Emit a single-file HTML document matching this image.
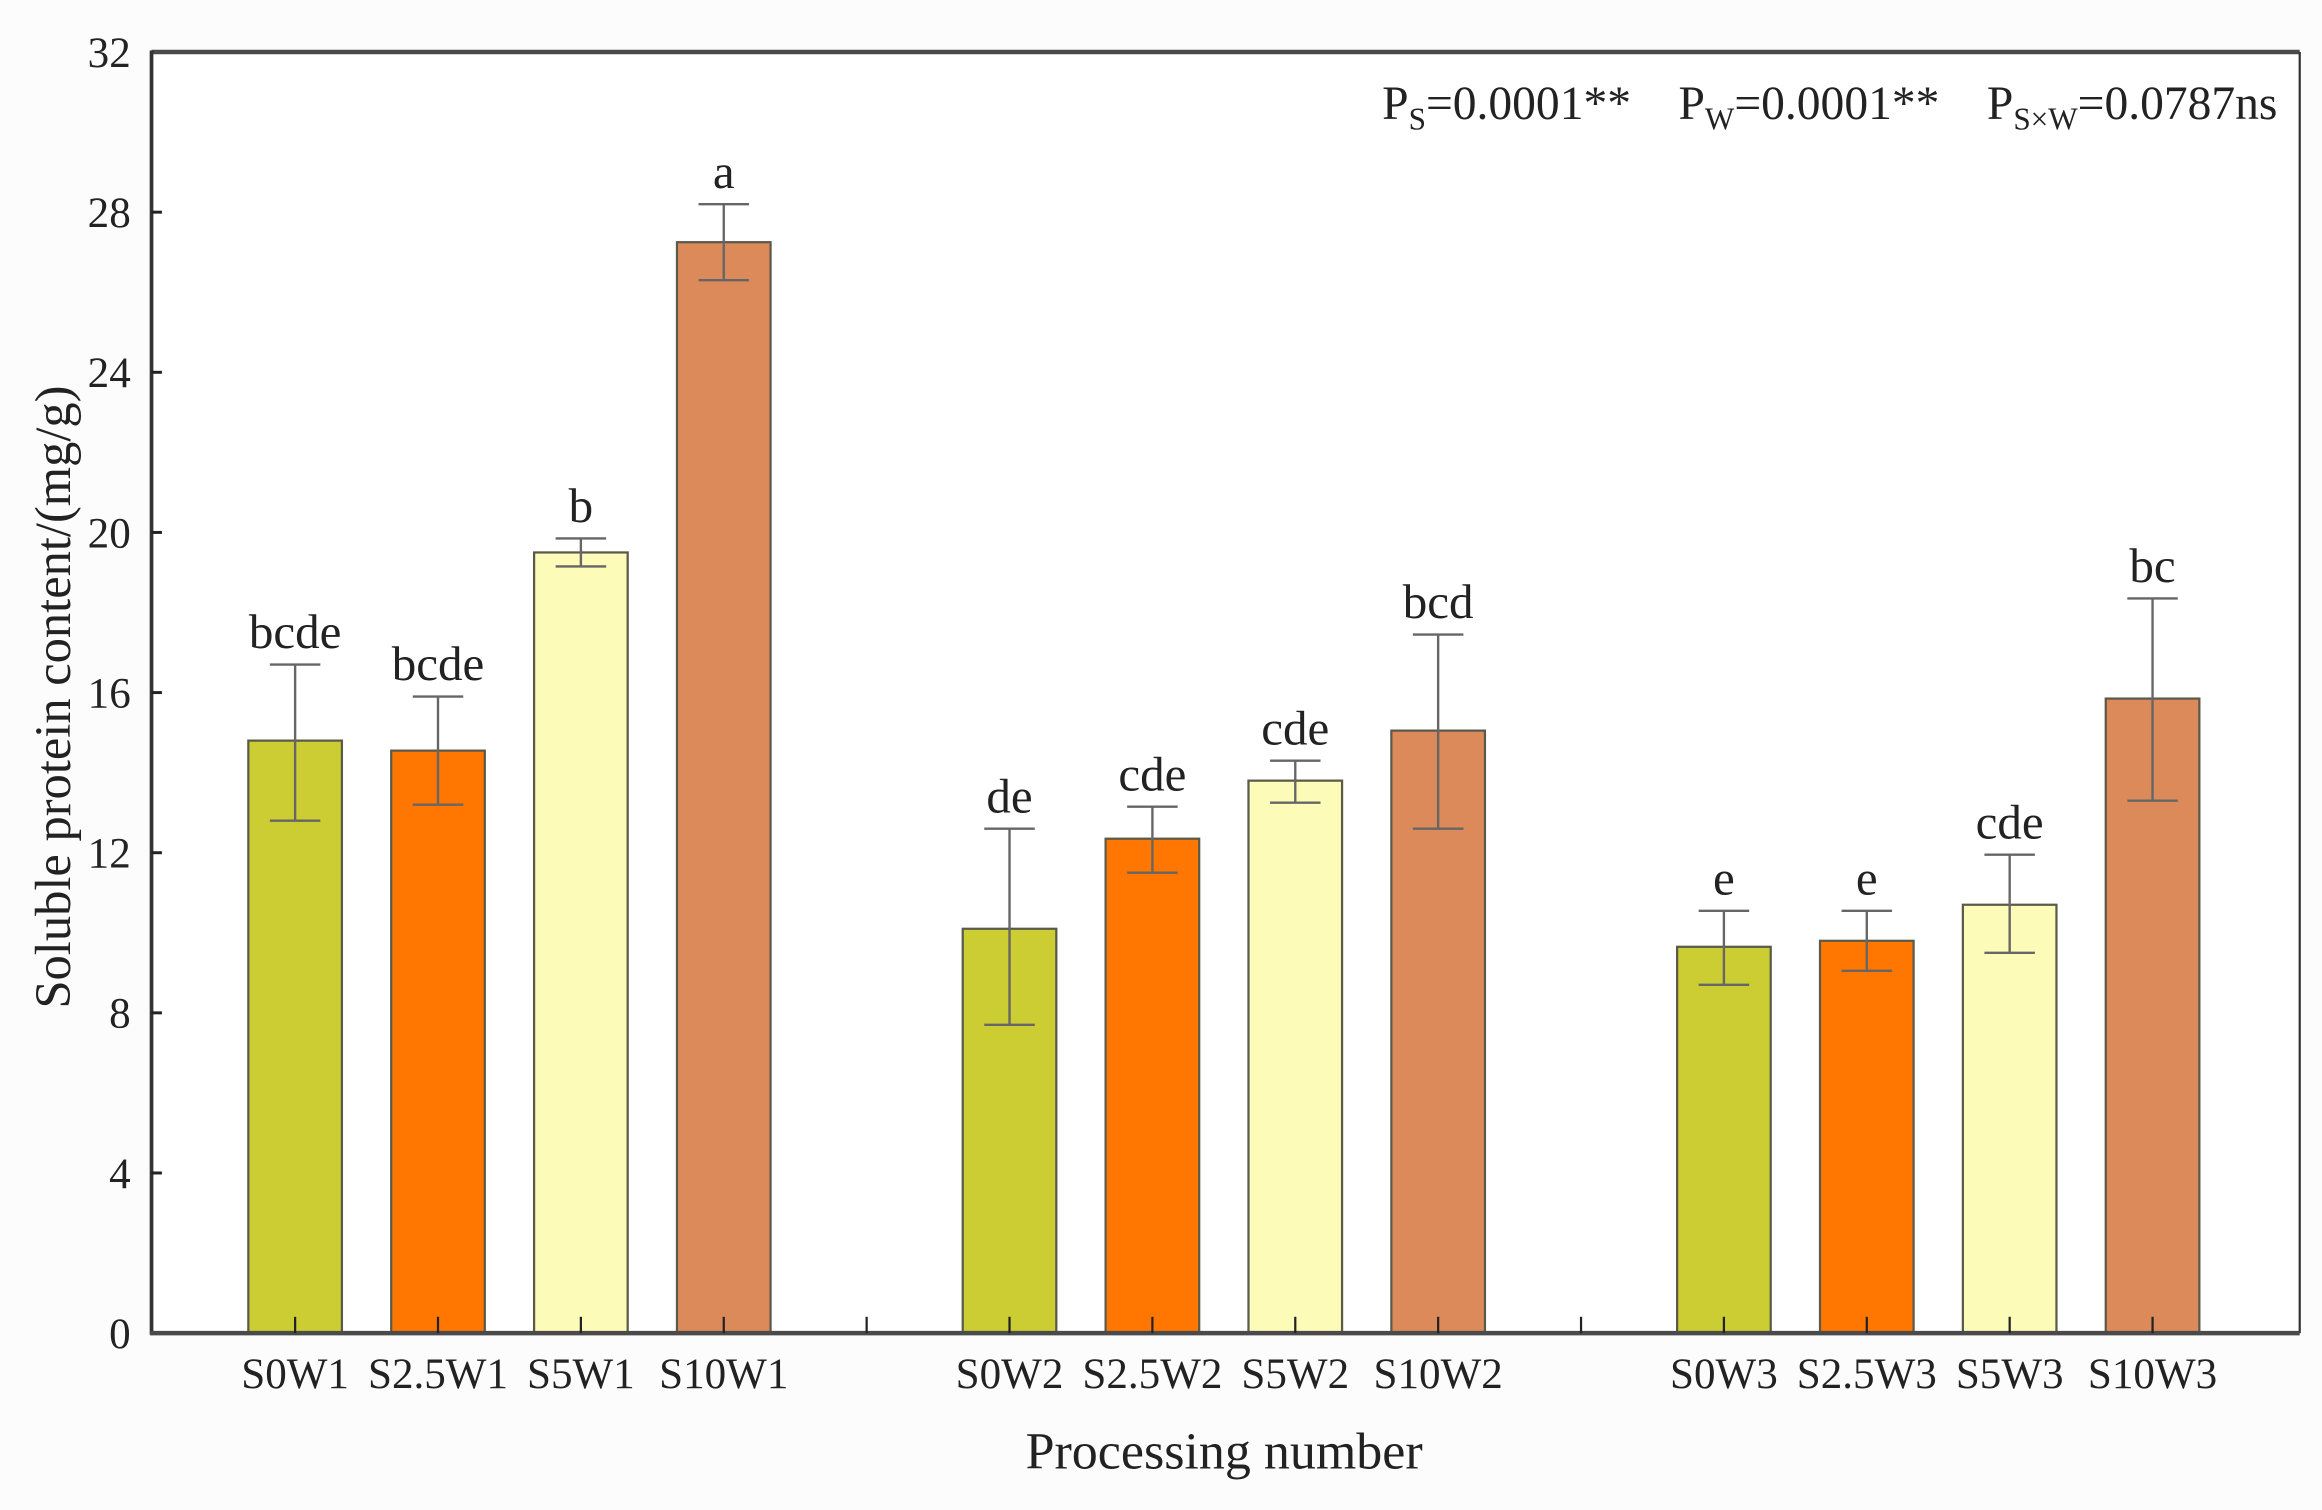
<!DOCTYPE html>
<html><head><meta charset="utf-8"><style>
html,body{margin:0;padding:0;background:#fcfcfc;}
svg{display:block;}
text{font-family:"Liberation Serif",serif;fill:#222;}
.pre{white-space:pre;}
</style></head><body>
<svg id="chart" width="2322" height="1510" viewBox="0 0 1563 1016" preserveAspectRatio="none" xmlns="http://www.w3.org/2000/svg">
<rect x="0" y="0" width="1563" height="1016" fill="#fcfcfc"/>
<rect x="102" y="35" width="1446" height="862" fill="#ffffff"/>
<g id="marks"></g>
<line x1="102" y1="35" x2="1548" y2="35" stroke="#4a4a4a" stroke-width="3"/>
<line x1="1548" y1="35" x2="1548" y2="897" stroke="#333" stroke-width="1.5"/>
<line x1="102" y1="34" x2="102" y2="898" stroke="#333" stroke-width="2.5"/>
<line x1="101" y1="897" x2="1548" y2="897" stroke="#4a4a4a" stroke-width="3"/>
<g id="axes"></g>
<text class="pre" x="1533" y="80" text-anchor="end" font-size="32">P<tspan font-size="21" dy="7">S</tspan><tspan dy="-7">=0.0001**    P</tspan><tspan font-size="21" dy="7">W</tspan><tspan dy="-7">=0.0001**    P</tspan><tspan font-size="21" dy="7">S×W</tspan><tspan dy="-7">=0.0787ns</tspan></text>
<text x="824" y="988" text-anchor="middle" font-size="35">Processing number</text>
<text transform="translate(47,469) rotate(-90)" text-anchor="middle" font-size="34">Soluble protein content/(mg/g)</text>
</svg>
<script>
const categories = ["S0W1","S2.5W1","S5W1","S10W1","S0W2","S2.5W2","S5W2","S10W2","S0W3","S2.5W3","S5W3","S10W3"];
const slots = [0,1,2,3,5,6,7,8,10,11,12,13];
const gapSlots = [4,9];
const values = [14.8,14.55,19.5,27.25,10.1,12.35,13.8,15.05,9.65,9.8,10.7,15.85];
const errLow = [12.8,13.2,19.15,26.3,7.7,11.5,13.25,12.6,8.7,9.05,9.5,13.3];
const errHigh = [16.7,15.9,19.85,28.2,12.6,13.15,14.3,17.45,10.55,10.55,11.95,18.35];
const letters = ["bcde","bcde","b","a","de","cde","cde","bcd","e","e","cde","bc"];
const fills = ["#cccc33","#ff7700","#fcfbb8","#dd8a5a"];
const yTicks = [0,4,8,12,16,20,24,28,32];

const NS = "http://www.w3.org/2000/svg";
const X0=102,X1=1548,Y0=897,Y1=35;
const xMin=-1.005,xMax=14.03,yMin=0,yMax=32;
function xs(v){return X0+(v-xMin)/(xMax-xMin)*(X1-X0);}
function ys(v){return Y0-(v-yMin)/(yMax-yMin)*(Y0-Y1);}
function mk(tag,attrs,parent){const e=document.createElementNS(NS,tag);for(const k in attrs)e.setAttribute(k,attrs[k]);parent.appendChild(e);return e;}
const marks=document.getElementById('marks');
const axes=document.getElementById('axes');
const bw=63;
categories.forEach((c,i)=>{
  const cx=xs(slots[i]);
  const r=mk('rect',{x:cx-bw/2,y:ys(values[i]),width:bw,height:ys(0)-ys(values[i]),fill:fills[i%4],stroke:'#5a5a4a','stroke-width':1.5},marks);
  
  
  const eg=mk('g',{stroke:'#666','stroke-width':1.6},marks);
  
  
  mk('line',{x1:cx,x2:cx,y1:ys(errLow[i]),y2:ys(errHigh[i])},eg);
  mk('line',{x1:cx-17,x2:cx+17,y1:ys(errLow[i]),y2:ys(errLow[i])},eg);
  mk('line',{x1:cx-17,x2:cx+17,y1:ys(errHigh[i]),y2:ys(errHigh[i])},eg);
  const t=mk('text',{x:cx,y:ys(errHigh[i])-11,'text-anchor':'middle','font-size':33,fill:'#333'},marks);
  t.textContent=letters[i];
  
  
  const tk=mk('line',{x1:cx,x2:cx,y1:Y0,y2:Y0-11,stroke:'#222','stroke-width':1.5},axes);
  
  
  const lb=mk('text',{x:cx,y:934,'text-anchor':'middle','font-size':29},axes);
  lb.textContent=c;
  
  
});
gapSlots.forEach(s=>{
  const tk=mk('line',{x1:xs(s),x2:xs(s),y1:Y0,y2:Y0-11,stroke:'#222','stroke-width':1.5},axes);
  
  
});
yTicks.forEach(v=>{
  const y=ys(v);
  if(v>0&&v<32){
    const tk=mk('line',{x1:X0,x2:X0+7,y1:y,y2:y,stroke:'#222','stroke-width':2},axes);
    
    
  }
  const t=mk('text',{x:88,y:y+10,'text-anchor':'end','font-size':29},axes);
  t.textContent=v;
  
  
});
</script>
</body></html>
